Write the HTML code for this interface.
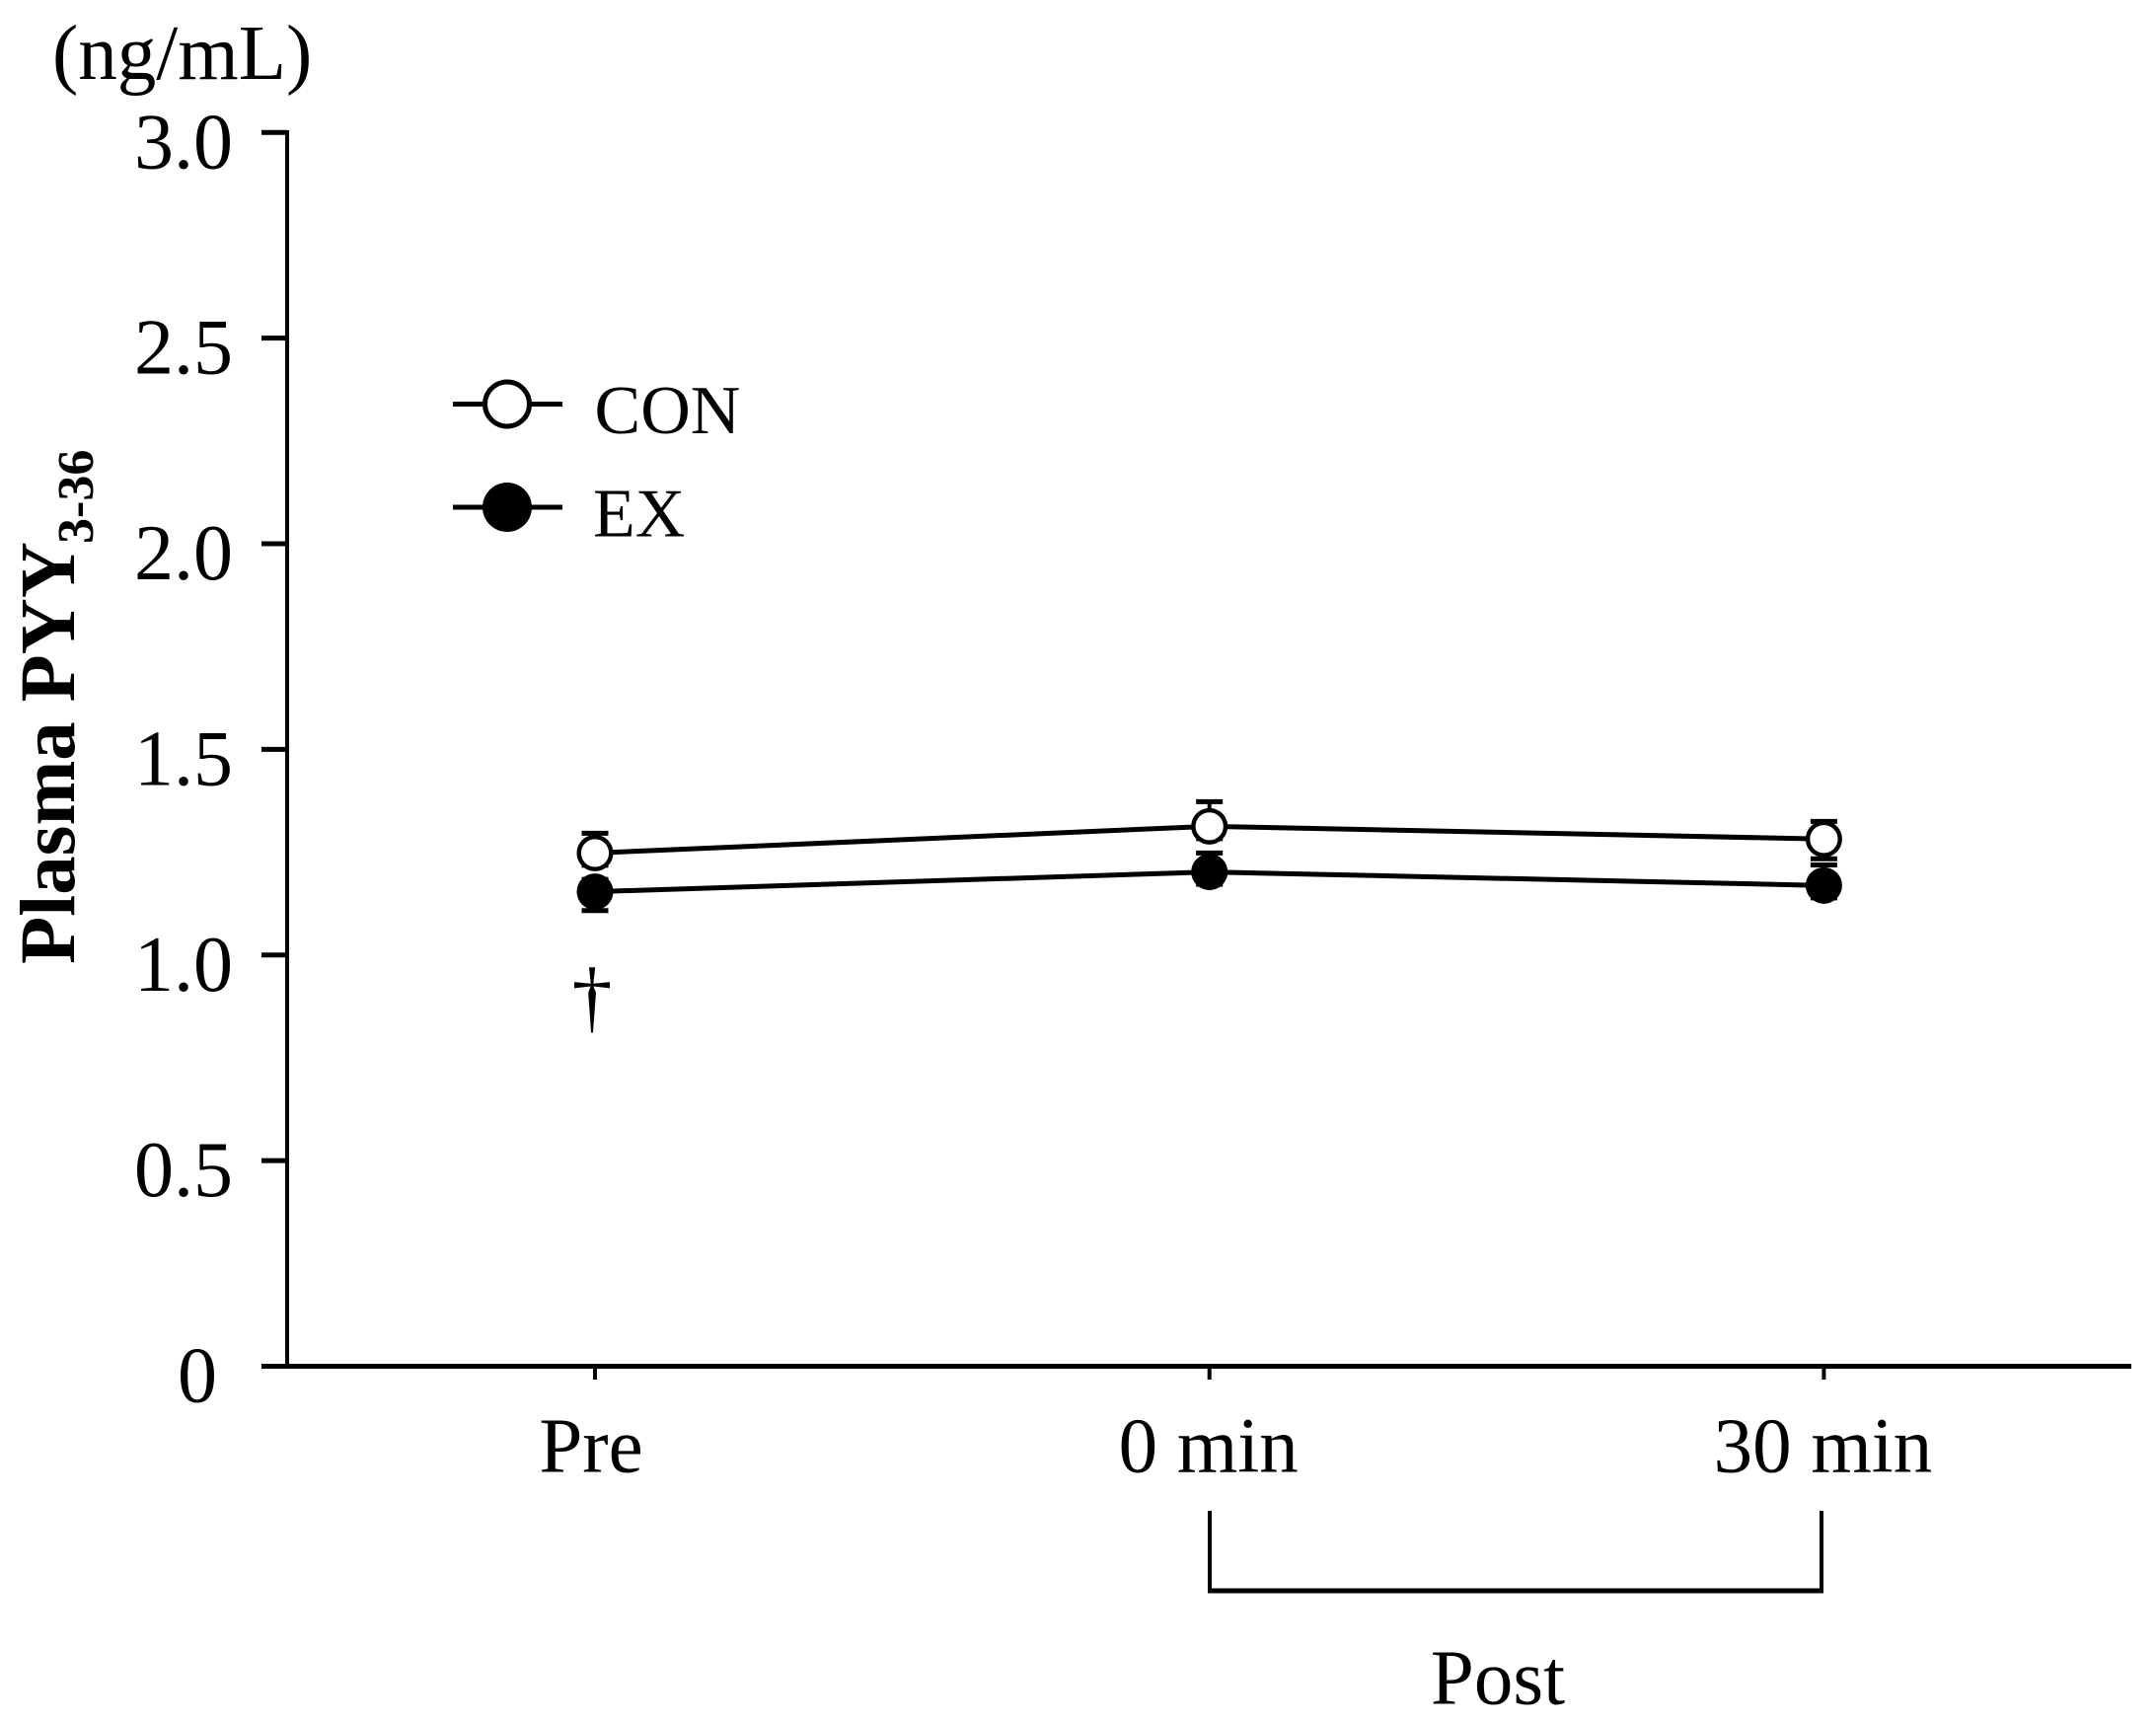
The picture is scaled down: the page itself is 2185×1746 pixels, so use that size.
<!DOCTYPE html>
<html>
<head>
<meta charset="utf-8">
<title>Plasma PYY3-36</title>
<style>
html,body{margin:0;padding:0;background:#fff;}
svg{display:block;}
text{font-family:"Liberation Serif",serif;fill:#000;}
</style>
</head>
<body>
<svg id="chart" xmlns="http://www.w3.org/2000/svg" width="2185" height="1746" viewBox="0 0 2185 1746">
<rect width="2185" height="1746" fill="#fff"/>
<text x="53" y="80" font-size="79">(ng/mL)</text>
<text transform="translate(75,977) rotate(-90)" font-size="79" font-weight="bold">Plasma PYY</text>
<text transform="translate(94,551) rotate(-90)" font-size="52" font-weight="bold">3-36</text>
<g id="layer"></g>
<text x="600" y="1037" font-size="82" text-anchor="middle">†</text>
<g fill="none" stroke="#000">
<line x1="1226" y1="1531" x2="1226" y2="1614" stroke-width="4"/>
<line x1="1846" y1="1531" x2="1846" y2="1614" stroke-width="4"/>
<line x1="1224" y1="1612" x2="1848" y2="1612" stroke-width="5"/>
</g>
<text x="1518" y="1726.5" font-size="79" text-anchor="middle">Post</text>
<g>
<line x1="459" y1="409.5" x2="570" y2="409.5" stroke="#000" stroke-width="5"/>
<circle cx="514" cy="409.5" r="22.5" fill="#fff" stroke="#000" stroke-width="5"/>
<text x="602.5" y="439" font-size="70">CON</text>
<line x1="459" y1="514" x2="570" y2="514" stroke="#000" stroke-width="5"/>
<circle cx="514" cy="514" r="25" fill="#000"/>
<text x="601" y="543.5" font-size="70">EX</text>
</g>
</svg>
<script>
const categories = ['Pre', '0 min', '30 min'];
const yTicks = [0, 0.5, 1.0, 1.5, 2.0, 2.5, 3.0];
const yTickLabels = ['0', '0.5', '1.0', '1.5', '2.0', '2.5', '3.0'];
const conValues = [1.248, 1.313, 1.282];
const exValues = [1.154, 1.202, 1.169];
const conErrUp = [0.048, 0.06, 0.043];
const conErrDown = [0.03, 0.03, 0.048];
const exErrUp = [0.03, 0.046, 0.05];
const exErrDown = [0.046, 0.03, 0.03];

const NS = 'http://www.w3.org/2000/svg';
const layer = document.getElementById('layer');
function yScale(v) { return 1384.5 - v * 416.73; }
function xScale(i) { return 603 + i * 622.7; }
function make(tag, attrs, text) {
  const el = document.createElementNS(NS, tag);
  for (const k in attrs) el.setAttribute(k, attrs[k]);
  if (text !== undefined) el.textContent = text;
  layer.appendChild(el);
  return el;
}
function seg(x1, y1, x2, y2, w) {
  return make('line', {x1: x1, y1: y1, x2: x2, y2: y2, stroke: '#000', 'stroke-width': w});
}

/* axes */
let el = seg(291, 132, 291, 1387, 4);


el = seg(265, 1384.5, 2160, 1384.5, 5);



yTicks.forEach(function (v, i) {
  const y = yScale(v);
  const t = seg(265, y, 291, y, 5);
  
  
  const lab = make('text', {x: v === 0 ? 220 : 236, y: y + 36, 'font-size': 80, 'text-anchor': 'end'}, yTickLabels[i]);
  
  
});

categories.forEach(function (c, i) {
  const x = xScale(i);
  const t = seg(x, 1387, x, 1398, 4);
  
  
  const lab = make('text', {x: x - (i === 0 ? 4 : 1), y: 1491.5, 'font-size': 79, 'text-anchor': 'middle'}, c);
  
  
});

/* series */
function drawSeries(name, values, up, down, filled) {
  const pts = values.map(function (v, i) { return xScale(i) + ',' + yScale(v); }).join(' ');
  const line = make('polyline', {points: pts, fill: 'none', stroke: '#000', 'stroke-width': 5});
  
  
  values.forEach(function (v, i) {
    const x = xScale(i);
    const hi = yScale(v + up[i]);
    const lo = yScale(v - down[i]);
    const stem = seg(x, hi, x, lo, 4);
    
    
    const capHi = seg(x - 13.5, hi, x + 13.5, hi, 5);
    
    
    const capLo = seg(x - 13.5, lo, x + 13.5, lo, 5);
    
    
  });
  values.forEach(function (v, i) {
    const attrs = filled
      ? {cx: xScale(i), cy: yScale(v), r: 18.5, fill: '#000'}
      : {cx: xScale(i), cy: yScale(v), r: 16.3, fill: '#fff', stroke: '#000', 'stroke-width': 4.4};
    const pt = make('circle', attrs);
    
    
  });
}
drawSeries('ex', exValues, exErrUp, exErrDown, true);
drawSeries('con', conValues, conErrUp, conErrDown, false);
</script>
</body>
</html>
